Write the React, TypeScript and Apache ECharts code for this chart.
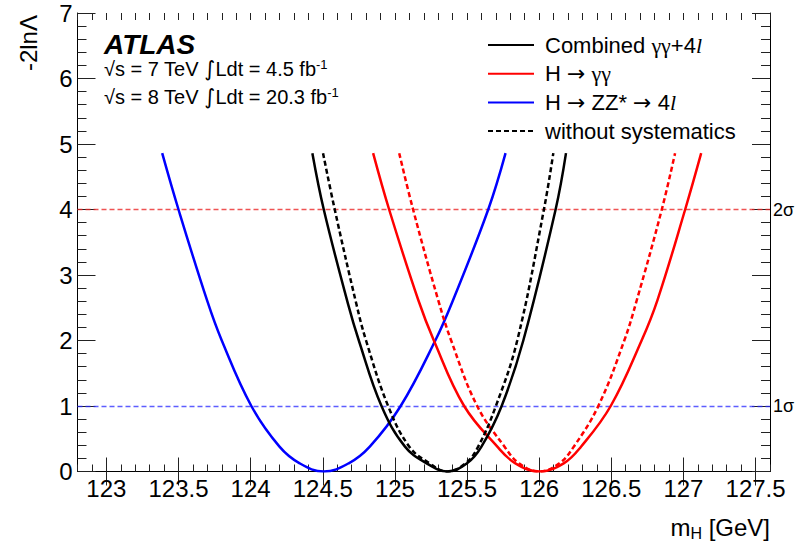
import React, { useEffect, useRef } from "react";
import * as echarts from "echarts";

const FONT = "'Liberation Sans', Arial, Helvetica, sans-serif";

// axis ticks / labels
const xMajorTicks = [123, 123.5, 124, 124.5, 125, 125.5, 126, 126.5, 127, 127.5];
const sigmaLabels: Record<number, string> = { 1: "1σ", 4: "2σ" };

// Combined γγ+4l (solid)
const combinedMass = [124.428, 124.507, 124.675, 124.75, 124.907, 125.07, 125.22, 125.362, 125.5, 125.6, 125.74, 125.89, 126.114, 126.186];
const combinedNll = [4.86, 4.0, 2.56, 2.0, 1.0, 0.38, 0.125, 0, 0.125, 0.38, 1.0, 2.0, 4.0, 4.86];

// Combined, without systematics (dashed)
const combinedStatMass = [124.502, 124.583, 124.733, 124.8, 124.953, 125.1, 125.24, 125.362, 125.49, 125.577, 125.7, 125.848, 126.033, 126.098];
const combinedStatNll = [4.86, 4.0, 2.557, 2.0, 1.0, 0.379, 0.125, 0, 0.125, 0.379, 1.0, 2.0, 4.0, 4.86];

// H → γγ (solid)
const gamgamMass = [124.849, 124.96, 125.162, 125.27, 125.48, 125.71, 125.835, 126.0, 126.17, 126.29, 126.496, 126.71, 126.82, 127.012, 127.123];
const gamgamNll = [4.86, 4.0, 2.618, 2.0, 1.0, 0.379, 0.125, 0, 0.125, 0.379, 1.0, 2.0, 2.618, 4.0, 4.86];

// H → γγ, without systematics (dashed)
const gamgamStatMass = [125.03, 125.126, 125.3, 125.39, 125.57, 125.76, 125.86, 126.0, 126.14, 126.24, 126.41, 126.59, 126.677, 126.85, 126.942];
const gamgamStatNll = [4.86, 4.0, 2.618, 2.0, 1.0, 0.379, 0.125, 0, 0.125, 0.379, 1.0, 2.0, 2.618, 4.0, 4.86];

// H → ZZ* → 4l (solid)
const zzMass = [123.387, 123.5, 123.7, 123.8, 124.005, 124.2, 124.34, 124.507, 124.68, 124.826, 125.04, 125.28, 125.4, 125.647, 125.767];
const zzNll = [4.86, 4.0, 2.6, 2.0, 1.0, 0.38, 0.125, 0, 0.125, 0.38, 1.0, 2.0, 2.6, 4.0, 4.86];

const seriesNames = ["Combined γγ+4l", "H → γγ", "H → ZZ* → 4l", "without systematics"];
const legendRich: Record<string, string> = {
  "Combined γγ+4l": "{n|Combined }{g|γγ}{n|+4}{i|l}",
  "H → γγ": "{n|H }{a|→}{n| }{g|γγ}",
  "H → ZZ* → 4l": "{n|H }{a|→}{n| ZZ* }{a|→}{n| 4}{i|l}",
  "without systematics": "{n|without systematics}",
};

const zip = (a: number[], b: number[]) => a.map((v, i) => [v, b[i]]);

export default function App() {
  const ref = useRef<HTMLDivElement>(null);
  useEffect(() => {
    document.body.style.margin = "0";
    if (!ref.current) return;
    const chart = echarts.init(ref.current, null, { renderer: "svg" });
    const axisColor = "#000";
    const tickColor = "#222";
    const lineBase = {
      type: "line" as const,
      xAxisIndex: 0,
      yAxisIndex: 0,
      showSymbol: false,
      symbol: "none",
      smooth: 0.4,
      silent: true,
    };
    const energyRich = {
      t: { fontSize: 20, lineHeight: 22, fontFamily: FONT, fill: "#000" },
      int: { fontSize: 21, lineHeight: 22, fontFamily: "'DejaVu Sans', sans-serif", fill: "#000" },
      sup: { fontSize: 13, lineHeight: 13, fontFamily: FONT, fill: "#000", verticalAlign: "top" },
    };
    chart.setOption({
      animation: false,
      backgroundColor: "#fff",
      textStyle: { fontFamily: FONT },
      grid: [
        { left: 77.5, right: 29, top: 13, bottom: 76.5 },
        { left: 77.5, right: 29, top: 13, bottom: 76.5 },
      ],
      xAxis: [
        {
          gridIndex: 0,
          type: "value",
          position: "bottom",
          min: 122.8,
          max: 127.6,
          axisLine: { show: true, lineStyle: { color: axisColor, width: 1 } },
          axisTick: { show: true, inside: true, length: 14, customValues: xMajorTicks, lineStyle: { color: tickColor } },
          axisLabel: { show: true, customValues: xMajorTicks, fontSize: 24, margin: 5, color: "#000", fontFamily: FONT },
          splitLine: { show: false },
        },
        {
          gridIndex: 0,
          type: "value",
          position: "top",
          min: 122.8,
          max: 127.6,
          axisLine: { show: true, lineStyle: { color: axisColor, width: 1 } },
          axisTick: { show: true, inside: true, length: 14, customValues: xMajorTicks, lineStyle: { color: tickColor } },
          axisLabel: { show: false },
          splitLine: { show: false },
        },
        {
          gridIndex: 1,
          type: "value",
          position: "bottom",
          min: 122.8,
          max: 127.6,
          interval: 0.1,
          axisLine: { show: false },
          axisTick: { show: true, inside: true, length: 7, lineStyle: { color: tickColor } },
          axisLabel: { show: false },
          splitLine: { show: false },
        },
        {
          gridIndex: 1,
          type: "value",
          position: "top",
          min: 122.8,
          max: 127.6,
          interval: 0.1,
          axisLine: { show: false },
          axisTick: { show: true, inside: true, length: 7, lineStyle: { color: tickColor } },
          axisLabel: { show: false },
          splitLine: { show: false },
        },
      ],
      yAxis: [
        {
          gridIndex: 0,
          type: "value",
          position: "left",
          min: 0,
          max: 7,
          interval: 1,
          axisLine: { show: true, lineStyle: { color: axisColor, width: 1 } },
          axisTick: { show: true, inside: true, length: 18, lineStyle: { color: tickColor } },
          minorTick: { show: true, splitNumber: 5, length: 9, lineStyle: { color: tickColor } },
          axisLabel: { fontSize: 24, margin: 5, color: "#000", fontFamily: FONT },
          splitLine: { show: false },
          minorSplitLine: { show: false },
        },
        {
          gridIndex: 0,
          type: "value",
          position: "right",
          min: 0,
          max: 7,
          interval: 1,
          axisLine: { show: true, lineStyle: { color: axisColor, width: 1 } },
          axisTick: { show: true, inside: true, length: 18, lineStyle: { color: tickColor } },
          minorTick: { show: true, splitNumber: 5, length: 9, lineStyle: { color: tickColor } },
          axisLabel: {
            fontSize: 18,
            margin: 3,
            color: "#000",
            fontFamily: FONT,
            formatter: (v: number) => sigmaLabels[v] || "",
          },
          splitLine: { show: false },
          minorSplitLine: { show: false },
        },
        { gridIndex: 1, type: "value", min: 0, max: 7, show: false },
      ],
      legend: {
        data: seriesNames,
        orient: "vertical",
        left: 487,
        top: 34,
        padding: 0,
        itemWidth: 46,
        itemHeight: 22,
        itemGap: 6.7,
        selectedMode: false,
        itemStyle: { opacity: 0 },
        formatter: (name: string) => legendRich[name] || name,
        textStyle: {
          fontSize: 22,
          color: "#000",
          fontFamily: FONT,
          padding: [0, 0, 0, 6],
          rich: {
            n: { fontSize: 22, fontFamily: FONT, color: "#000" },
            a: { fontSize: 22, fontFamily: "'DejaVu Sans', sans-serif", color: "#000" },
            g: { fontSize: 22, fontFamily: "'Liberation Serif', 'DejaVu Serif', serif", color: "#000" },
            i: { fontSize: 22, fontFamily: "'Liberation Serif', 'DejaVu Serif', serif", fontStyle: "italic", color: "#000" },
          },
        },
      },
      series: [
        {
          ...lineBase,
          name: "H → ZZ* → 4l",
          data: zip(zzMass, zzNll),
          lineStyle: { color: "#0000ff", width: 2.5 },
          itemStyle: { color: "#0000ff" },
          z: 3,
          markLine: {
            silent: true,
            symbol: ["none", "none"],
            label: { show: false },
            lineStyle: { color: "rgba(40,40,255,0.75)", type: [5, 3], width: 1.3 },
            data: [{ yAxis: 1 }],
            z: 1,
          },
        },
        {
          ...lineBase,
          name: "H → γγ (without systematics)",
          data: zip(gamgamStatMass, gamgamStatNll),
          lineStyle: { color: "#ff0000", width: 2.5, type: [5, 3] },
          itemStyle: { color: "#ff0000" },
          z: 3,
        },
        {
          ...lineBase,
          name: "H → γγ",
          data: zip(gamgamMass, gamgamNll),
          lineStyle: { color: "#ff0000", width: 2.5 },
          itemStyle: { color: "#ff0000" },
          z: 3,
          markLine: {
            silent: true,
            symbol: ["none", "none"],
            label: { show: false },
            lineStyle: { color: "rgba(235,40,40,0.8)", type: [5, 3], width: 1.3 },
            data: [{ yAxis: 4 }],
            z: 1,
          },
        },
        {
          ...lineBase,
          name: "without systematics",
          data: zip(combinedStatMass, combinedStatNll),
          lineStyle: { color: "#000", width: 2.5, type: [5, 3] },
          itemStyle: { color: "#000" },
          z: 3,
        },
        {
          ...lineBase,
          name: "Combined γγ+4l",
          data: zip(combinedMass, combinedNll),
          lineStyle: { color: "#000", width: 2.5 },
          itemStyle: { color: "#000" },
          z: 3,
        },
      ],
      graphic: [
        {
          type: "text",
          x: 28,
          y: 15,
          rotation: Math.PI / 2,
          style: { text: "-2lnΛ", fontSize: 24, fontFamily: FONT, fill: "#000", align: "right", verticalAlign: "middle" },
        },
        {
          type: "text",
          x: 770,
          y: 527,
          style: {
            text: "{m|m}{s|H}{m| [GeV]}",
            align: "right",
            verticalAlign: "middle",
            fill: "#000",
            rich: {
              m: { fontSize: 24, lineHeight: 26, fontFamily: FONT, fill: "#000" },
              s: { fontSize: 16, lineHeight: 16, padding: [12, 0, 0, 0], fontFamily: FONT, fill: "#000" },
            },
          },
        },
        {
          type: "text",
          x: 104,
          y: 44,
          style: {
            text: "ATLAS",
            fontSize: 28,
            fontWeight: "bold",
            fontStyle: "italic",
            fontFamily: FONT,
            fill: "#000",
            verticalAlign: "middle",
          },
        },
        {
          type: "text",
          x: 104,
          y: 69,
          style: {
            text: "{t|√s = 7 TeV }{int|∫}{t|Ldt = 4.5 fb}{sup|-1}",
            verticalAlign: "middle",
            fill: "#000",
            rich: energyRich,
          },
        },
        {
          type: "text",
          x: 104,
          y: 97,
          style: {
            text: "{t|√s = 8 TeV }{int|∫}{t|Ldt = 20.3 fb}{sup|-1}",
            verticalAlign: "middle",
            fill: "#000",
            rich: energyRich,
          },
        },
      ],
    });
    return () => chart.dispose();
  }, []);
  return (
    <div
      ref={ref}
      style={{ position: "fixed", left: 0, top: 0, width: 799, height: 548, background: "#fff" }}
    />
  );
}
